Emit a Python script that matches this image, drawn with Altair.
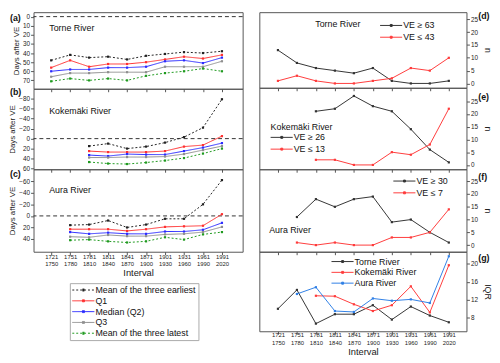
import json
import altair as alt
import pandas as pd

FONT = "Liberation Sans"

intervals = ["1721-1750", "1751-1780", "1781-1810", "1811-1840", "1841-1870",
             "1871-1900", "1901-1930", "1931-1960", "1961-1990", "1991-2020"]

left_series = ["Mean of the three earliest", "Q1", "Median (Q2)", "Q3",
               "Mean of the three latest"]
left_colors = ["#222222", "#ff3030", "#2b2bff", "#8f8f8f", "#1f9a1f"]
left_dashes = [[2, 2], [1, 0], [1, 0], [1, 0], [2, 2]]

# (a) Torne River, all intervals
torne_earliest = [48, 42, 45, 44, 47, 43, 41, 39, 40, 38]
torne_q1 = [56, 48, 55, 52, 52, 50, 47, 44, 46, 42]
torne_q2 = [60, 58, 58, 56, 56, 55, 49, 48, 51, 45]
torne_q3 = [66, 62, 62, 61, 61, 61, 55, 55, 55, 49]
torne_latest = [71, 68, 70, 68, 70, 65, 62, 60, 57, 60]

# (b) Kokemaki River, from 1781-1810
koke_earliest = [15, 10, 20, 16, 8, -3, -22, -79]
koke_q1 = [25, 27, 27, 27, 25, 16, 13, -5]
koke_q2 = [33, 35, 31, 32, 32, 25, 18, 9]
koke_q3 = [38, 38, 37, 37, 36, 31, 23, 15]
koke_latest = [47, 50, 51, 48, 44, 39, 30, 20]

# (c) Aura River, from 1751-1780
aura_earliest = [16, 15, 8, 20, 15, 5, 5, -20, -62]
aura_q1 = [23, 23, 23, 26, 23, 19, 18, 17, -3]
aura_q2 = [28, 31, 29, 31, 31, 27, 27, 24, 12]
aura_q3 = [36, 37, 33, 35, 35, 32, 31, 28, 19]
aura_latest = [42, 41, 44, 46, 44, 37, 41, 32, 28]

# (d)-(f) counts n
torne_late = [13, 8, 6, 5, 4, 6, 1, 0, 0, 1]
torne_early = [1, 3, 1, 0, 0, 1, 2, 6, 5, 10]
koke_late = [21, 22, 27, 23, 21, 14, 6, 1]
koke_early = [2, 2, 0, 0, 5, 4, 8, 22]
aura_late = [11, 18, 15, 18, 19, 9, 10, 5, 1]
aura_early = [1, 0, 1, 0, 0, 3, 3, 5, 14]

# (g) IQR
iqr_torne = [10.0, 14.2, 6.7, 8.8, 8.8, 10.8, 7.6, 10.5, 8.5, 7.0]
iqr_koke = [12.9, 12.8, 11.0, 9.5, 10.8, 15.0, 9.2, 19.7]
iqr_aura = [13.3, 14.8, 9.5, 9.3, 12.3, 11.8, 12.1, 11.3, 21.7]

LABEL_EXPR = "split(" + json.dumps(intervals) + "[datum.value], '-')"
SYM = "M-1,0H4M1.3,-0.22h0.44v0.44h-0.44Z"


def long_df(start, series):
    rows = []
    for name, vals in series:
        for k, v in enumerate(vals):
            rows.append({"i": start + k, "v": v, "s": name})
    return pd.DataFrame(rows)


def text_layer(txt, x, y, size=9, bold=False, align="left"):
    return alt.Chart(pd.DataFrame({"t": [txt]})).mark_text(
        align=align, baseline="middle", fontSize=size, font=FONT,
        fontWeight="bold" if bold else "normal", color="#111"
    ).encode(text="t:N", x=alt.value(x), y=alt.value(y))


def x_enc(bottom, domain, fs, lh, lpad):
    if bottom:
        ax = alt.Axis(values=list(range(10)), labelExpr=LABEL_EXPR, tickSize=3,
                      domain=False, grid=False, labelFontSize=fs, labelLineHeight=lh,
                      labelPadding=lpad, labelOverlap=False, labelFlush=False,
                      titleFontSize=9.5, titlePadding=1, titleFontWeight="normal")
        return alt.X("i:Q", scale=alt.Scale(domain=domain, nice=False, zero=False),
                     axis=ax, title="Interval")
    ax = alt.Axis(values=list(range(10)), labels=False, tickSize=3, domain=False,
                  grid=False)
    return alt.X("i:Q", scale=alt.Scale(domain=domain, nice=False, zero=False),
                 axis=ax, title=None)


LX = [-0.93, 10.09]
RX = [-0.98, 9.93]


def left_panel(df, height, ydom, yticks, river, river_y, tag, tag_y, bottom=False,
               legend=None):
    x = x_enc(bottom, LX, 6, 7, -1)
    y = alt.Y("v:Q", scale=alt.Scale(domain=ydom, reverse=True, nice=False, zero=False),
              axis=alt.Axis(values=yticks, tickSize=3, domain=False, grid=False,
                            labelFontSize=6.5, labelPadding=1, labelOverlap=False,
                            titleFontSize=8, titlePadding=2, titleFontWeight="normal"),
              title="Days after VE")
    cscale = alt.Scale(domain=left_series, range=left_colors)
    dscale = alt.Scale(domain=left_series, range=left_dashes)
    zero = alt.Chart(pd.DataFrame({"v": [0]})).mark_rule(
        color="#333", strokeDash=[4, 3], strokeWidth=1).encode(y=y)
    lines = alt.Chart(df).mark_line(strokeWidth=1).encode(
        x=x, y=y,
        color=alt.Color("s:N", scale=cscale, legend=legend),
        strokeDash=alt.StrokeDash("s:N", scale=dscale, legend=legend),
    )
    pts = alt.Chart(df).mark_point(shape="square", filled=True, size=5, opacity=1).encode(
        x=x, y=y, color=alt.Color("s:N", scale=cscale, legend=None))
    return alt.layer(zero, lines, pts,
                     text_layer(river, 16, river_y),
                     text_layer(tag, -24, tag_y, size=9, bold=True)).properties(
        width=213, height=height)


def right_panel(df, height, ydom, yticks, ytitle, names, colors, legend, tag, tag_y,
                texts=(), bottom=False):
    x = x_enc(bottom, RX, 6, 8.5, -3)
    y = alt.Y("v:Q", scale=alt.Scale(domain=ydom, nice=False, zero=False),
              axis=alt.Axis(values=yticks, orient="right", tickSize=3, domain=False,
                            grid=False, labelFontSize=6.5, labelPadding=1,
                            labelOverlap=False, titleFontSize=9, titlePadding=5,
                            titleFontWeight="normal"),
              title=ytitle)
    cscale = alt.Scale(domain=names, range=colors)
    lines = alt.Chart(df).mark_line(strokeWidth=1).encode(
        x=x, y=y, color=alt.Color("s:N", scale=cscale, legend=legend))
    pts = alt.Chart(df).mark_point(shape="square", filled=True, size=5, opacity=1).encode(
        x=x, y=y, color=alt.Color("s:N", scale=cscale, legend=None))
    layers = [lines, pts] + [text_layer(t, tx, ty) for t, tx, ty in texts]
    layers.append(text_layer(tag, 223, tag_y, size=9, bold=True))
    return alt.layer(*layers).properties(width=211, height=height)


def leg(x, y, padding=0, stroke=None, row=2):
    kw = dict(orient="none", legendX=x, legendY=y, title=None, symbolType=SYM,
              symbolSize=81, symbolStrokeWidth=1, labelFontSize=9, labelFont=FONT,
              labelOffset=14, rowPadding=row, padding=padding, labelLimit=400,
              labelColor="#111")
    if stroke:
        kw.update(strokeColor=stroke, fillColor="white")
    return alt.Legend(**kw)


pa = left_panel(long_df(0, zip(left_series, [torne_earliest, torne_q1, torne_q2, torne_q3, torne_latest])),
                78, [-4.85, 79.2], [0, 10, 20, 30, 40, 50, 60, 70], "Torne River", 16.5,
                "(a)", 6)
pb = left_panel(long_df(2, zip(left_series, [koke_earliest, koke_q1, koke_q2, koke_q3, koke_latest])),
                82, [-100, 61.5], [-80, -60, -40, -20, 0, 20, 40, 60], "Kokemäki River", 22.5,
                "(b)", 3)
pc = left_panel(long_df(1, zip(left_series, [aura_earliest, aura_q1, aura_q2, aura_q3, aura_latest])),
                84, [-80.7, 62], [-60, -40, -20, 0, 20, 40], "Aura River", 21.5, "(c)", 5,
                bottom=True, legend=leg(37, 116, padding=2, stroke="#aaaaaa", row=1))

nd = ["VE ≥ 63", "VE ≤ 43"]
ne = ["VE ≥ 26", "VE ≤ 13"]
nf = ["VE ≥ 30", "VE ≤ 7"]
ng = ["Torne River", "Kokemäki River", "Aura River"]
BR = ["#333333", "#ff3b3b"]
NT = [0, 5, 10, 15, 20, 25]

pd_ = right_panel(long_df(0, zip(nd, [torne_late, torne_early])), 77, [-1.7, 27.8], NT, "n",
                  nd, BR, leg(122.5, 8.5), "(d)", 4, texts=[("Torne River", 57, 12.5)])
pe = right_panel(long_df(2, zip(ne, [koke_late, koke_early])), 83, [-1.7, 30.2], NT, "n",
                 ne, BR, leg(11, 45.5), "(e)", 9.5, texts=[("Kokemäki River", 11.5, 39.5)])
pf = right_panel(long_df(1, zip(nf, [aura_late, aura_early])), 84, [-2.6, 29.7], NT, "n",
                 nf, BR, leg(136, 7), "(f)", 8, texts=[("Aura River", 10, 61.5)])
dg = pd.concat([long_df(0, [(ng[0], iqr_torne)]), long_df(2, [(ng[1], iqr_koke)]),
                long_df(1, [(ng[2], iqr_aura)])])
pg = right_panel(dg, 81, [5, 22.7], [8, 12, 16, 20], "IQR", ng,
                 ["#333333", "#ff3b3b", "#2f7fe6"], leg(73, 5, row=1), "(g)", 6,
                 bottom=True)

left = alt.vconcat(pa, pb, pc, spacing=0, bounds="flush").resolve_scale(
    color="independent", strokeDash="independent")
right = alt.vconcat(pd_, pe, pf, pg, spacing=0, bounds="flush").resolve_scale(
    color="independent")

chart = alt.hconcat(left, right, spacing=15).resolve_scale(
    color="independent", strokeDash="independent"
).properties(padding=0, background="white").configure_view(
    stroke="#555555", strokeWidth=1
).configure_axis(
    labelFont=FONT, titleFont=FONT, labelColor="#222", titleColor="#222",
    tickColor="#555"
)

chart.save("out.html", embed_options={"renderer": "svg", "actions": False})
